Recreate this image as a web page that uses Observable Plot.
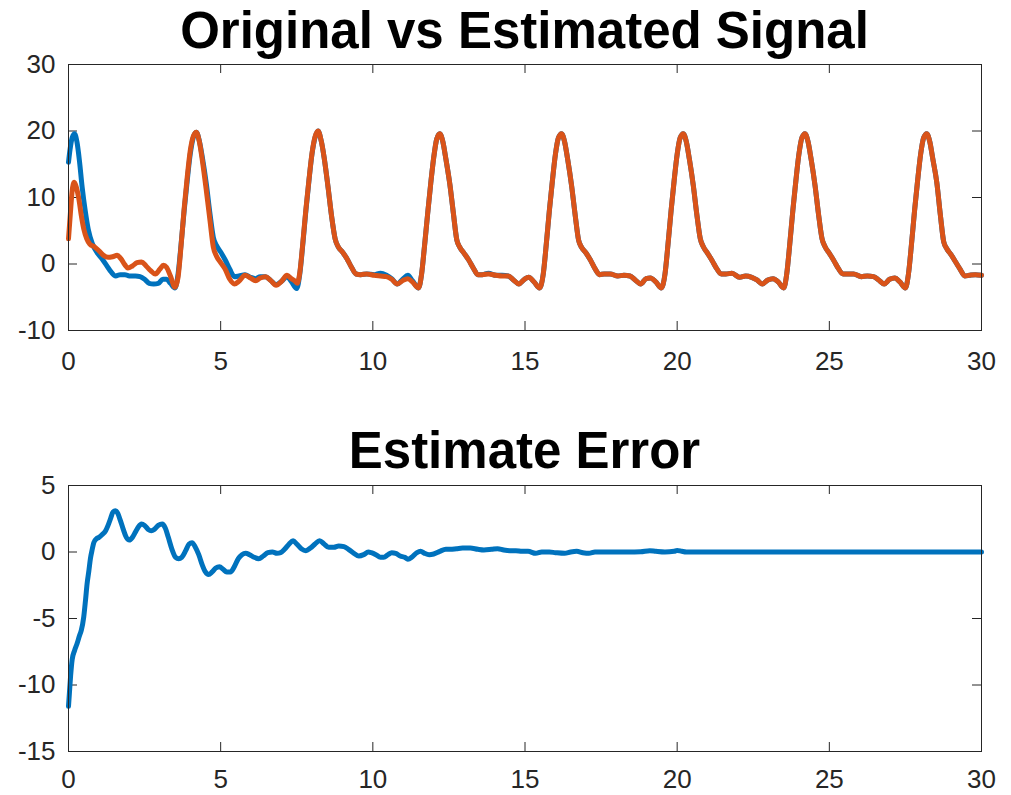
<!DOCTYPE html>
<html><head><meta charset="utf-8">
<script src="https://cdn.jsdelivr.net/npm/d3@7"></script>
<script src="https://cdn.jsdelivr.net/npm/@observablehq/plot@0.6"></script>
<style>
html,body{margin:0;padding:0;background:#fff;}
#root{position:relative;width:1011px;height:795px;overflow:hidden;font-family:"Liberation Sans",Arial,sans-serif;}
.title{position:absolute;left:68px;width:913px;text-align:center;font-weight:bold;font-size:51px;line-height:51px;color:#000;white-space:nowrap;}
.chart{position:absolute;left:0;}
</style></head><body>
<div id="root">
 <div class="chart" id="top" style="top:0px"></div>
 <div class="chart" id="bottom" style="top:400px"></div>
 <div class="title" style="top:5px">Original vs Estimated Signal</div>
 <div class="title" style="top:425px">Estimate Error</div>
</div>
<script>
// ---- data ----
const titleTop = "Original vs Estimated Signal";
const titleBottom = "Estimate Error";
const xTicks = [0, 5, 10, 15, 20, 25, 30];
const yTicksTop = [-10, 0, 10, 20, 30];
const yTicksBottom = [-15, -10, -5, 0, 5];

// original signal (blue): [time, value]
const originalSignal = [
[0,15.3],[0.05,17.2],[0.12,19.0],[0.2,19.6],[0.28,18.3],[0.36,15.5],[0.45,11.5],[0.55,8.0],[0.65,5.2],[0.78,3.1],[0.94,1.7],[1.1,0.8],[1.25,-0.2],[1.4,-1.2],[1.55,-1.8],[1.7,-1.6],[1.85,-1.6],[2.0,-1.8],[2.2,-1.8],[2.35,-1.9],[2.5,-2.3],[2.65,-2.9],[2.8,-3.0],[2.95,-2.9],[3.1,-2.3],[3.22,-2.3],[3.35,-2.9],[3.5,-3.6],
[3.6,-1.5],[3.7,3],[3.8,8],[3.9,12.5],[4.0,16.5],[4.1,19],[4.2,19.8],[4.3,18.5],[4.4,16],[4.53,12],[4.65,7.5],[4.76,4.0],[4.86,2.8],[5.0,1.8],[5.15,0.6],[5.3,-0.8],[5.45,-1.9],[5.6,-1.8],[5.8,-1.6],[5.98,-2.0],[6.15,-2.2],[6.3,-1.9],[6.47,-1.9],[6.65,-2.5],[6.82,-3.1],[7.0,-2.6],[7.18,-1.9],[7.32,-2.6],[7.5,-3.7],
[7.6,-1.5],[7.7,3],[7.8,8],[7.9,12.5],[8.0,16.5],[8.1,19],[8.2,20],[8.3,18.6],[8.4,16],[8.53,11.5],[8.65,7],[8.76,3.8],[8.86,2.6],[9.0,1.8],[9.15,0.8],[9.3,-0.5],[9.45,-1.5],[9.6,-1.6],[9.8,-1.5],[10.05,-1.6],[10.25,-1.4],[10.45,-1.7],[10.62,-2.2],[10.8,-3.0],[10.98,-2.3],[11.15,-1.7],[11.3,-2.5],[11.5,-3.6],
[11.6,-1.6],[11.7,2.8],[11.8,7.5],[11.9,12],[12.0,16],[12.1,18.8],[12.2,19.6],[12.3,18.4],[12.4,15.8],[12.53,12],[12.65,7.5],[12.76,3.6],[12.86,2.5],[13.0,1.6],[13.15,0.6],[13.3,-0.6],[13.45,-1.6],[13.6,-1.6],[13.8,-1.4],[14.05,-1.7],[14.25,-1.7],[14.45,-1.8],[14.62,-2.4],[14.8,-3.0],[14.98,-2.3],[15.12,-2.0],[15.3,-2.7],[15.48,-3.6],
[15.6,-1.5],[15.7,3],[15.8,8],[15.9,12.5],[16.0,16.5],[16.1,19],[16.2,19.6],[16.3,18.4],[16.4,15.8],[16.53,11.8],[16.65,7.3],[16.76,3.6],[16.86,2.5],[17.0,1.7],[17.15,0.6],[17.3,-0.7],[17.45,-1.6],[17.6,-1.5],[17.8,-1.5],[18.05,-1.8],[18.25,-1.7],[18.45,-1.8],[18.62,-2.4],[18.8,-3.0],[18.98,-2.2],[19.12,-2.1],[19.3,-2.7],[19.48,-3.6],
[19.6,-1.5],[19.7,3],[19.8,8],[19.9,12.5],[20.0,16.5],[20.1,19],[20.2,19.6],[20.3,18.4],[20.4,15.8],[20.53,11.8],[20.65,7.3],[20.76,3.8],[20.86,2.6],[21.0,1.6],[21.15,0.5],[21.3,-0.7],[21.45,-1.5],[21.6,-1.5],[21.8,-1.4],[22.05,-2.0],[22.25,-1.8],[22.45,-2.0],[22.62,-2.4],[22.8,-3.0],[22.98,-2.4],[23.15,-2.2],[23.32,-2.7],[23.5,-3.6],
[23.6,-1.5],[23.7,3],[23.8,8],[23.9,12.5],[24.0,16.5],[24.1,19],[24.2,19.6],[24.3,18.4],[24.4,15.8],[24.53,11.8],[24.65,7.3],[24.76,3.8],[24.86,2.6],[25.0,1.6],[25.15,0.5],[25.3,-0.7],[25.45,-1.5],[25.6,-1.5],[25.8,-1.5],[26.05,-1.9],[26.25,-1.8],[26.45,-1.9],[26.62,-2.4],[26.8,-3.0],[26.98,-2.3],[27.15,-2.1],[27.32,-2.7],[27.5,-3.6],
[27.6,-1.5],[27.7,3],[27.8,8],[27.9,12.5],[28.0,16.5],[28.1,19],[28.2,19.6],[28.3,18.4],[28.4,15.8],[28.53,12.3],[28.65,7.3],[28.76,3.3],[28.86,2.3],[29.0,1.4],[29.15,0.3],[29.3,-0.8],[29.45,-1.8],[29.6,-1.7],[29.8,-1.6],[30.0,-1.7]
];

// estimated signal (orange): [time, value]
const estimatedSignal = [
[0,3.8],[0.06,7.5],[0.12,11.0],[0.19,12.3],[0.26,11.5],[0.34,9.8],[0.42,7.3],[0.5,5.3],[0.6,3.8],[0.7,3.0],[0.85,2.6],[1.0,2.0],[1.15,1.3],[1.3,1.0],[1.45,1.1],[1.6,1.3],[1.72,0.8],[1.85,-0.1],[1.95,-0.6],[2.1,-0.3],[2.25,0.2],[2.4,0.3],[2.55,-0.3],[2.7,-1.0],[2.85,-1.5],[3.0,-0.8],[3.12,-0.2],[3.22,-0.5],[3.35,-1.8],[3.5,-3.5],
[3.6,-2.0],[3.7,2.8],[3.8,8.3],[3.9,13],[4.0,17],[4.1,19.2],[4.2,19.8],[4.3,18.4],[4.4,15.5],[4.53,11],[4.65,6.5],[4.76,2.5],[4.86,1.2],[5.0,0.2],[5.15,-0.8],[5.3,-2.3],[5.45,-3.0],[5.6,-2.6],[5.8,-1.7],[5.98,-2.1],[6.15,-2.5],[6.3,-2.1],[6.47,-1.9],[6.65,-2.5],[6.82,-3.2],[7.0,-2.6],[7.18,-1.7],[7.32,-2.2],[7.45,-2.6],[7.52,-2.9],
[7.6,-1.3],[7.7,3.2],[7.8,8.2],[7.9,12.6],[8.0,16.6],[8.1,19.1],[8.2,20],[8.3,18.6],[8.4,16],[8.53,11.5],[8.65,7],[8.76,3.8],[8.86,2.6],[9.0,1.8],[9.15,0.8],[9.3,-0.5],[9.45,-1.5],[9.6,-1.6],[9.8,-1.5],[10.05,-1.7],[10.25,-1.8],[10.45,-1.9],[10.62,-2.3],[10.8,-3.0],[10.98,-2.5],[11.15,-2.2],[11.3,-2.7],[11.5,-3.6],
[11.6,-1.6],[11.7,2.8],[11.8,7.5],[11.9,12],[12.0,16],[12.1,18.8],[12.2,19.6],[12.3,18.4],[12.4,15.8],[12.53,12],[12.65,7.5],[12.76,3.6],[12.86,2.5],[13.0,1.6],[13.15,0.6],[13.3,-0.6],[13.45,-1.6],[13.6,-1.6],[13.8,-1.5],[14.05,-1.7],[14.25,-1.8],[14.45,-1.8],[14.62,-2.4],[14.8,-3.0],[14.98,-2.3],[15.12,-2.0],[15.3,-2.7],[15.48,-3.6],
[15.6,-1.5],[15.7,3],[15.8,8],[15.9,12.5],[16.0,16.5],[16.1,19],[16.2,19.6],[16.3,18.4],[16.4,15.8],[16.53,11.8],[16.65,7.3],[16.76,3.6],[16.86,2.5],[17.0,1.7],[17.15,0.6],[17.3,-0.7],[17.45,-1.6],[17.6,-1.5],[17.8,-1.5],[18.05,-1.8],[18.25,-1.7],[18.45,-1.8],[18.62,-2.4],[18.8,-3.0],[18.98,-2.2],[19.12,-2.1],[19.3,-2.7],[19.48,-3.6],
[19.6,-1.5],[19.7,3],[19.8,8],[19.9,12.5],[20.0,16.5],[20.1,19],[20.2,19.6],[20.3,18.4],[20.4,15.8],[20.53,11.8],[20.65,7.3],[20.76,3.8],[20.86,2.6],[21.0,1.6],[21.15,0.5],[21.3,-0.7],[21.45,-1.5],[21.6,-1.5],[21.8,-1.4],[22.05,-2.0],[22.25,-1.8],[22.45,-2.0],[22.62,-2.4],[22.8,-3.0],[22.98,-2.4],[23.15,-2.2],[23.32,-2.7],[23.5,-3.6],
[23.6,-1.5],[23.7,3],[23.8,8],[23.9,12.5],[24.0,16.5],[24.1,19],[24.2,19.6],[24.3,18.4],[24.4,15.8],[24.53,11.8],[24.65,7.3],[24.76,3.8],[24.86,2.6],[25.0,1.6],[25.15,0.5],[25.3,-0.7],[25.45,-1.5],[25.6,-1.5],[25.8,-1.5],[26.05,-1.9],[26.25,-1.8],[26.45,-1.9],[26.62,-2.4],[26.8,-3.0],[26.98,-2.3],[27.15,-2.1],[27.32,-2.7],[27.5,-3.6],
[27.6,-1.5],[27.7,3],[27.8,8],[27.9,12.5],[28.0,16.5],[28.1,19],[28.2,19.6],[28.3,18.4],[28.4,15.8],[28.53,12.3],[28.65,7.3],[28.76,3.3],[28.86,2.3],[29.0,1.4],[29.15,0.3],[29.3,-0.8],[29.45,-1.8],[29.6,-1.7],[29.8,-1.6],[30.0,-1.7]
];

// estimate error (blue, bottom): [time, value]
const estimateError = [
[0,-11.6],[0.03,-10.6],[0.07,-9.3],[0.12,-8.1],[0.2,-7.4],[0.28,-6.9],[0.36,-6.3],[0.42,-5.9],[0.5,-4.9],[0.56,-3.6],[0.61,-2.4],[0.67,-1.4],[0.72,-0.5],[0.78,0.2],[0.83,0.7],[0.92,1.0],[1.0,1.1],[1.1,1.3],[1.22,1.6],[1.3,2.0],[1.38,2.5],[1.46,3.0],[1.54,3.1],[1.62,2.9],[1.7,2.4],[1.8,1.7],[1.9,1.1],[2.0,0.9],[2.1,1.1],[2.2,1.5],[2.3,1.9],[2.4,2.1],[2.5,2.0],[2.62,1.7],[2.72,1.6],[2.82,1.7],[2.95,2.0],[3.08,2.1],[3.18,1.8],[3.28,1.1],[3.4,0.2],[3.52,-0.4],[3.62,-0.5],[3.72,-0.4],[3.85,0.1],[3.96,0.6],[4.06,0.7],[4.16,0.4],[4.28,-0.2],[4.4,-1.0],[4.5,-1.5],[4.6,-1.7],[4.72,-1.5],[4.84,-1.2],[4.96,-1.1],[5.08,-1.3],[5.2,-1.5],[5.32,-1.5],[5.45,-1.1],[5.58,-0.5],[5.7,-0.2],[5.82,-0.1],[5.95,-0.2],[6.1,-0.4],[6.25,-0.5],[6.4,-0.3],[6.55,-0.05],[6.7,0.0],[6.85,-0.1],[6.97,-0.05],[7.1,0.2],[7.25,0.6],[7.38,0.85],[7.5,0.6],[7.65,0.25],[7.8,0.1],[7.95,0.3],[8.1,0.6],[8.25,0.85],[8.4,0.6],[8.55,0.35],[8.72,0.35],[8.88,0.45],[9.05,0.4],[9.2,0.2],[9.38,-0.1],[9.54,-0.3],[9.7,-0.2],[9.85,0.0],[9.95,-0.05],[10.1,-0.2],[10.25,-0.4],[10.36,-0.4],[10.5,-0.2],[10.62,-0.05],[10.75,-0.1],[10.9,-0.3],[11.05,-0.4],[11.15,-0.55],[11.3,-0.35],[11.45,-0.05],[11.57,0.05],[11.7,-0.1],[11.85,-0.2],[12.0,-0.15],[12.2,0.05],[12.4,0.2],[12.55,0.2],[12.75,0.25],[12.95,0.3],[13.2,0.3],[13.45,0.2],[13.65,0.15],[13.9,0.2],[14.1,0.25],[14.3,0.15],[14.5,0.1],[14.7,0.1],[14.9,0.05],[15.1,0.05],[15.35,-0.1],[15.55,0.0],[15.8,0.0],[16.0,-0.05],[16.3,-0.1],[16.5,0.0],[16.7,0.05],[16.9,-0.05],[17.1,-0.1],[17.3,0.0],[17.6,0.0],[18.0,0.0],[18.4,0.0],[18.8,0.02],[19.1,0.1],[19.3,0.05],[19.6,0.0],[19.9,0.05],[20.0,0.12],[20.15,0.05],[20.3,0.0],[22,0],[25,0],[28,0],[30,0]
];

const blue = "#0072BD";
const orange = "#D95319";
const axisColor = "#262626";

function makeChart({height, marginTop, marginBottom, xPad, yDomain, yTicks, series}) {
  const width = 1011, marginLeft = 68, marginRight = 30, tickLen = 9;
  const plotH = height - marginTop - marginBottom;
  const plotW = width - marginLeft - marginRight;
  const fmt = d => String(d);
  return Plot.plot({
    width, height, marginLeft, marginRight, marginTop, marginBottom,
    style: {background: "transparent", fontFamily: "'Liberation Sans', Arial, sans-serif", fontSize: "26px", color: axisColor, overflow: "visible"},
    x: {domain: [0, 30], axis: null},
    y: {domain: yDomain, axis: null},
    marks: [
      Plot.ruleX(xTicks, {x: d => d, insetTop: plotH - tickLen, stroke: axisColor, strokeWidth: 1}),
      Plot.ruleX(xTicks, {x: d => d, insetBottom: plotH - tickLen, stroke: axisColor, strokeWidth: 1}),
      Plot.ruleY(yTicks, {y: d => d, insetRight: plotW - tickLen, stroke: axisColor, strokeWidth: 1}),
      Plot.ruleY(yTicks, {y: d => d, insetLeft: plotW - tickLen, stroke: axisColor, strokeWidth: 1}),
      Plot.axisX({ticks: xTicks, tickSize: 0, tickPadding: xPad, tickFormat: fmt, fontSize: 26, fill: axisColor}),
      Plot.axisY({ticks: yTicks, tickSize: 0, tickPadding: 13, tickFormat: fmt, fontSize: 26, fill: axisColor}),
      ...series.map(s => Plot.line(s.data, {x: d => d[0], y: d => d[1], stroke: s.color, strokeWidth: 5, curve: "monotone-x", strokeLinejoin: "round", strokeLinecap: "round"})),
      Plot.frame({stroke: axisColor, strokeWidth: 1})
    ]
  });
}

document.getElementById("top").append(makeChart({
  height: 380, marginTop: 64, marginBottom: 50, xPad: 21,
  yDomain: [-10, 30], yTicks: yTicksTop,
  series: [{data: originalSignal, color: blue}, {data: estimatedSignal, color: orange}]
}));
document.getElementById("bottom").append(makeChart({
  height: 395, marginTop: 85, marginBottom: 44, xPad: 18,
  yDomain: [-15, 5], yTicks: yTicksBottom,
  series: [{data: estimateError, color: blue}]
}));
document.querySelectorAll(".title")[0].textContent = titleTop;
document.querySelectorAll(".title")[1].textContent = titleBottom;
</script>
</body></html>
